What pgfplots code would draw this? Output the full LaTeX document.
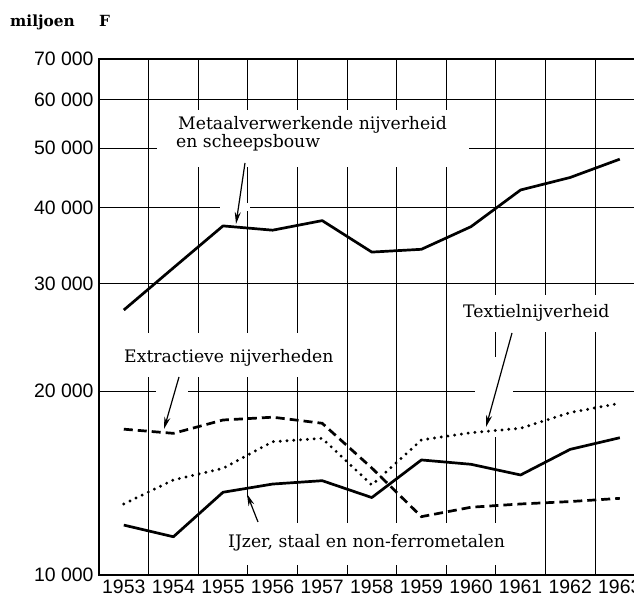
\documentclass[border=0pt]{standalone}
\usepackage{fontspec}
\setmainfont{DejaVu Serif}
\newfontfamily\ticksf{Liberation Sans}
\usepackage{pgfplots}
\pgfplotsset{compat=1.18}
\usetikzlibrary{arrows.meta}
\begin{document}
\begin{tikzpicture}
\useasboundingbox (0,0) rectangle (634bp,602bp);
\clip (0,0) rectangle (634bp,602bp);
\begin{axis}[
  at={(99bp,27bp)}, anchor=south west,
  scale only axis, width=545.6bp, height=516bp,
  ymode=log, xmin=1952.5, xmax=1963.5, ymin=10000, ymax=70000,
  xtick={1953,1954,1955,1956,1957,1958,1959,1960,1961,1962,1963},
  xticklabels={1953,1954,1955,1956,1957,1958,1959,1960,1961,1962,1963},
  minor xtick={1953.5,1954.5,1955.5,1956.5,1957.5,1958.5,1959.5,1960.5,1961.5,1962.5},
  xminorgrids,
  ytick={10000,20000,30000,40000,50000,60000,70000},
  yticklabels={10\ 000,20\ 000,30\ 000,40\ 000,50\ 000,60\ 000,70\ 000},
  ymajorgrids,
  major tick length=0pt, minor tick length=0pt,
  grid style={black, line width=0.9bp},
  minor grid style={black, line width=0.9bp},
  axis line style={line width=2bp},
  ticklabel style={font=\ticksf\fontsize{19.5}{20}\selectfont},
  xticklabel style={yshift=-1bp},
  yticklabel style={xshift=-2bp},
]
% white patches (label boxes and breaks in the grid)
\fill[white] (rel axis cs:0.1063,0.7907) rectangle (rel axis cs:0.6782,0.9012);
\fill[white] (rel axis cs:0.2218,0.7054) rectangle (rel axis cs:0.2768,0.7209);
\fill[white] (rel axis cs:0.0385,0.3837) rectangle (rel axis cs:0.4344,0.4690);
\fill[white] (rel axis cs:0.1045,0.3469) rectangle (rel axis cs:0.1631,0.3624);
\fill[white] (rel axis cs:0.6525,0.4709) rectangle (rel axis cs:1.0,0.5426);
\fill[white] (rel axis cs:0.6891,0.3469) rectangle (rel axis cs:0.7588,0.3624);
\fill[white] (rel axis cs:0.7111,0.2674) rectangle (rel axis cs:0.7295,0.4225);
\fill[white] (rel axis cs:0.2126,0.0194) rectangle (rel axis cs:0.7496,0.1008);
\fill[white] (rel axis cs:0.2639,0.1008) rectangle (rel axis cs:0.2786,0.1512);
% Metaalverwerkende nijverheid en scheepsbouw
\addplot[black, line width=2.7bp, line join=round] coordinates {
 (1953,27160) (1954,31840) (1955,37300) (1956,36700) (1957,38050) (1958,33790)
 (1959,34150) (1960,37190) (1961,42710) (1962,44770) (1963,47970)};
% Extractieve nijverheden
\addplot[black, line width=2.7bp, dash pattern=on 9bp off 5bp] coordinates {
 (1953,17330) (1954,17060) (1955,17940) (1956,18130) (1957,17720) (1958,14970)
 (1959,12460) (1960,12910) (1961,13070) (1962,13190) (1963,13350)};
% Textielnijverheid
\addplot[black, line width=3.2bp, line cap=round, dash pattern=on 0bp off 6.8bp] coordinates {
 (1953,13070) (1954,14310) (1955,14950) (1956,16530) (1957,16740) (1958,14040)
 (1959,16640) (1960,17100) (1961,17390) (1962,18450) (1963,19110)};
% IJzer, staal en non-ferrometalen
\addplot[black, line width=2.7bp, line join=round] coordinates {
 (1953,12070) (1954,11550) (1955,13660) (1956,14090) (1957,14270) (1958,13390)
 (1959,15430) (1960,15180) (1961,14580) (1962,16060) (1963,16780)};
\end{axis}
\begin{scope}[x=1bp, y=-1bp, shift={(0,602bp)}, font=\fontsize{17.3}{18}\selectfont]
  \node[anchor=base west, inner sep=0, font=\bfseries\fontsize{15.4}{16}\selectfont] at (10,27) {miljoen};
  \node[anchor=base west, inner sep=0, font=\bfseries\fontsize{15.4}{16}\selectfont] at (99,27) {F};
  \node[anchor=base west, inner sep=0] at (178,130) {Metaalverwerkende nijverheid};
  \node[anchor=base west, inner sep=0] at (176,148) {en scheepsbouw};
  \draw[line width=1.2bp, -{Stealth[length=12bp,width=6bp]}] (245,163) -- (236,224);
  \node[anchor=base west, inner sep=0] at (124,363) {Extractieve nijverheden};
  \draw[line width=1.2bp, -{Stealth[length=12bp,width=6bp]}] (179,377) -- (164,429);
  \node[anchor=base west, inner sep=0] at (463,318) {Textielnijverheid};
  \draw[line width=1.2bp, -{Stealth[length=12bp,width=6bp]}] (512,333) -- (486,427);
  \node[anchor=base west, inner sep=0] at (228,548) {IJzer, staal en non-ferrometalen};
  \draw[line width=1.2bp, -{Stealth[length=12bp,width=6bp]}] (258,522) -- (247,494);
\end{scope}
\end{tikzpicture}
\end{document}
